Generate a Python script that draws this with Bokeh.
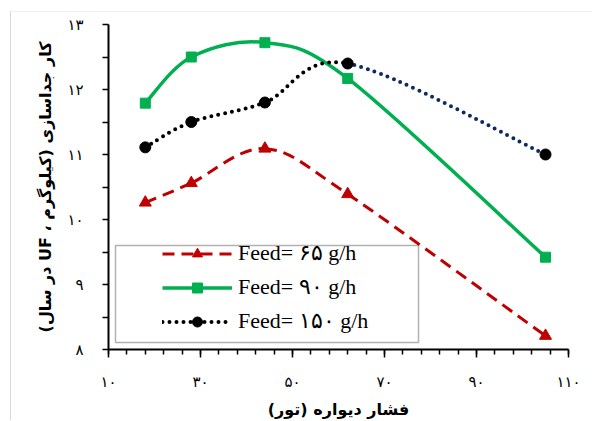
from bokeh.plotting import figure
from bokeh.models import (FixedTicker, Legend, LegendItem, BoxAnnotation, Range1d,
                          ColumnDataSource)
from bokeh.embed import file_html
from bokeh.resources import INLINE

# ---------------- data ----------------
pressure = [18, 28, 44, 62, 105]
feed65 = [10.26, 10.56, 11.09, 10.39, 8.21]
feed90 = [11.79, 12.50, 12.72, 12.17, 9.42]
feed150 = [11.11, 11.50, 11.80, 12.40, 11.00]
series_labels = ["Feed= ۶۵ g/h", "Feed= ۹۰ g/h", "Feed= ۱۵۰ g/h"]
x_ticks = [10, 30, 50, 70, 90, 110]
x_tick_labels = ["۱۰", "۳۰", "۵۰", "۷۰", "۹۰", "۱۱۰"]
y_ticks = [8, 9, 10, 11, 12, 13]
y_tick_labels = ["۸", "۹", "۱۰", "۱۱", "۱۲", "۱۳"]
x_title = "فشار دیواره (تور)"
y_title = "کار جداسازی (کیلوگرم ، UF در سال)"

RED = "#C00000"
GREEN = "#00B050"
BLACK = "#000000"
NAVY = "#0E2A60"


def smooth_source(xs, ys, colors):
    """Bezier segments (Catmull-Rom style smoothing) between the data points."""
    n = len(xs)
    d = dict(x0=[], y0=[], x1=[], y1=[], cx0=[], cy0=[], cx1=[], cy1=[], color=[])
    for i in range(n - 1):
        a = max(i - 1, 0)
        b = min(i + 2, n - 1)
        d["x0"].append(xs[i]); d["y0"].append(ys[i])
        d["x1"].append(xs[i + 1]); d["y1"].append(ys[i + 1])
        d["cx0"].append(xs[i] + (xs[i + 1] - xs[a]) / 6.0)
        d["cy0"].append(ys[i] + (ys[i + 1] - ys[a]) / 6.0)
        d["cx1"].append(xs[i + 1] - (xs[b] - xs[i]) / 6.0)
        d["cy1"].append(ys[i + 1] - (ys[b] - ys[i]) / 6.0)
        d["color"].append(colors[i])
    return ColumnDataSource(d)


p = figure(width=582, height=409, x_range=Range1d(10, 110), y_range=Range1d(8, 13),
           output_backend="svg", toolbar_location=None,
           min_border_left=97, min_border_right=25, min_border_top=12, min_border_bottom=67)
p.styles = {"margin-left": "10px", "margin-top": "11px",
            "border-left": "1px solid #d9d9d9", "border-top": "1px solid #f0f0f0"}
p.xgrid.visible = False
p.ygrid.visible = False
p.outline_line_color = None
p.background_fill_color = "white"
p.border_fill_color = "white"

# x axis
xa = p.xaxis[0]
xa.ticker = FixedTicker(ticks=x_ticks, minor_ticks=list(range(10, 111, 4)))
xa.major_label_overrides = dict(zip(x_ticks, x_tick_labels))
xa.axis_line_width = 2
xa.axis_line_color = "black"
xa.major_tick_line_width = 1.5
xa.minor_tick_line_width = 1.5
xa.major_tick_line_color = "black"
xa.minor_tick_line_color = "black"
xa.major_tick_out = 8
xa.major_tick_in = 0
xa.minor_tick_out = 5
xa.minor_tick_in = 0
xa.major_label_standoff = 15
xa.major_label_text_font = "DejaVu Sans"
xa.major_label_text_font_size = "15px"
xa.major_label_text_color = "black"
xa.axis_label = "\u202b" + x_title + "\u202c"
xa.axis_label_text_font = "DejaVu Sans"
xa.axis_label_text_font_style = "bold"
xa.axis_label_text_font_size = "16px"
xa.axis_label_text_color = "black"
xa.axis_label_standoff = 6

# y axis
ya = p.yaxis[0]
ya.ticker = FixedTicker(ticks=y_ticks, minor_ticks=[v + 0.5 for v in y_ticks[:-1]])
ya.major_label_overrides = dict(zip(y_ticks, y_tick_labels))
ya.axis_line_width = 2
ya.axis_line_color = "black"
ya.major_tick_line_width = 1.5
ya.minor_tick_line_width = 1.5
ya.major_tick_line_color = "black"
ya.minor_tick_line_color = "black"
ya.major_tick_out = 6
ya.major_tick_in = 0
ya.minor_tick_out = 6
ya.minor_tick_in = 0
ya.major_label_standoff = 19
ya.major_label_text_font = "DejaVu Sans"
ya.major_label_text_font_size = "15px"
ya.major_label_text_color = "black"
ya.axis_label = "\u202b" + y_title + "\u202c"
ya.axis_label_text_font = "DejaVu Sans"
ya.axis_label_text_font_style = "bold"
ya.axis_label_text_font_size = "16px"
ya.axis_label_text_color = "black"
ya.axis_label_standoff = 9

# series
src65 = smooth_source(pressure, feed65, [RED] * 4)
src90 = smooth_source(pressure, feed90, [GREEN] * 4)
src150 = smooth_source(pressure, feed150, [BLACK, BLACK, BLACK, NAVY])

l65 = p.bezier(x0="x0", y0="y0", x1="x1", y1="y1", cx0="cx0", cy0="cy0", cx1="cx1", cy1="cy1",
               source=src65, line_color="color", line_width=3, line_dash="12 7")
m65 = p.scatter(pressure, feed65, marker="triangle", size=12, color=RED)

l90 = p.bezier(x0="x0", y0="y0", x1="x1", y1="y1", cx0="cx0", cy0="cy0", cx1="cx1", cy1="cy1",
               source=src90, line_color="color", line_width=3.5)
m90 = p.scatter(pressure, feed90, marker="square", size=10, color=GREEN)

l150 = p.bezier(x0="x0", y0="y0", x1="x1", y1="y1", cx0="cx0", cy0="cy0", cx1="cx1", cy1="cy1",
                source=src150, line_color="color", line_width=4, line_dash="0 7", line_cap="round")
m150 = p.scatter(pressure, feed150, marker="circle", size=11, color=BLACK)

# legend frame + legend
box = BoxAnnotation(left=103, right=406, top=232, bottom=329,
                    left_units="canvas", right_units="canvas",
                    top_units="canvas", bottom_units="canvas",
                    fill_color="white", fill_alpha=1.0, line_color="black", line_width=1.5)
p.add_layout(box)

legend = Legend(items=[LegendItem(label=series_labels[0], renderers=[l65, m65]),
                       LegendItem(label=series_labels[1], renderers=[l90, m90]),
                       LegendItem(label=series_labels[2], renderers=[l150, m150])],
                location=(54, 15), orientation="vertical",
                background_fill_alpha=0, border_line_color=None,
                padding=0, spacing=8, margin=0,
                glyph_width=70, glyph_height=25, label_height=25,
                label_standoff=6, label_text_font="Liberation Serif",
                label_text_font_size="22px", label_text_color="black")
p.add_layout(legend)

open("out.html", "w").write(file_html(p, INLINE))
